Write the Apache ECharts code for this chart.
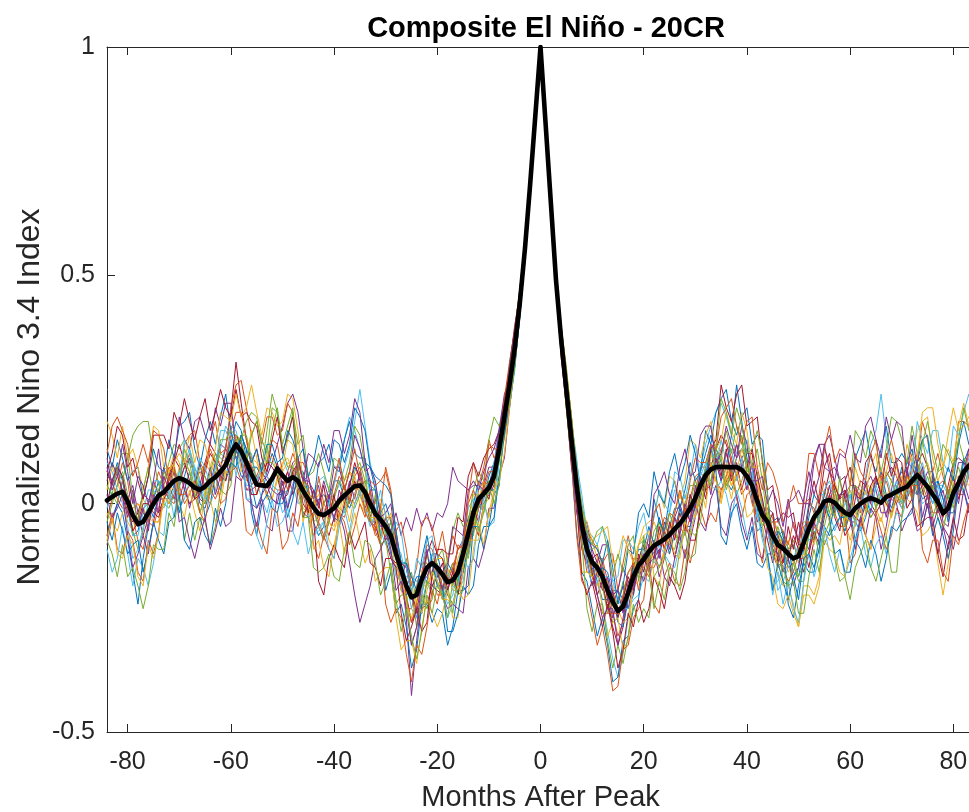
<!DOCTYPE html>
<html><head><meta charset="utf-8">
<script src="https://cdn.jsdelivr.net/npm/echarts@6/dist/echarts.min.js"></script>
<style>html,body{margin:0;padding:0;background:#fff}#chart{width:969px;height:812px}</style>
</head><body><div id="chart"></div>
<script>
// Months after peak: -84 .. 84 (169 monthly values per series)
const MONTH_START = -84;
const xTickValues = [-80, -60, -40, -20, 0, 20, 40, 60, 80];
const memberColors = ['#0072BD', '#D95319', '#EDB120', '#7E2F8E', '#77AC30', '#4DBEEE', '#A2142F'];

const compositeMean = [
  0.007, 0.015, 0.022, 0.026, 0.005, -0.025, -0.045, -0.04, -0.02, 0.0, 0.018, 0.025, 0.038,
  0.05, 0.056, 0.052, 0.045, 0.035, 0.03, 0.038, 0.05, 0.058, 0.07, 0.085, 0.11, 0.13,
  0.115, 0.09, 0.065, 0.042, 0.04, 0.039, 0.055, 0.077, 0.062, 0.05, 0.058, 0.05, 0.028,
  0.01, -0.008, -0.022, -0.025, -0.018, -0.01, 0.006, 0.018, 0.028, 0.038, 0.04, 0.025, 0.0,
  -0.022, -0.035, -0.05, -0.07, -0.11, -0.145, -0.18, -0.205, -0.2, -0.165, -0.14, -0.13, -0.14,
  -0.155, -0.172, -0.168, -0.15, -0.11, -0.065, -0.02, 0.01, 0.022, 0.035, 0.06, 0.12, 0.19,
  0.26, 0.34, 0.44, 0.56, 0.70, 0.85, 1.0, 0.83, 0.66, 0.49, 0.36, 0.25, 0.14,
  0.04, -0.045, -0.1, -0.128, -0.14, -0.16, -0.19, -0.215, -0.235, -0.225, -0.195, -0.16, -0.135,
  -0.122, -0.105, -0.092, -0.085, -0.078, -0.068, -0.055, -0.044, -0.028, -0.01, 0.012, 0.04, 0.062,
  0.075, 0.08, 0.081, 0.08, 0.08, 0.08, 0.074, 0.06, 0.04, 0.005, -0.025, -0.04, -0.07,
  -0.09, -0.098, -0.11, -0.12, -0.115, -0.085, -0.055, -0.03, -0.015, 0.005, 0.008, 0.002, -0.01,
  -0.02, -0.025, -0.01, 0.0, 0.008, 0.012, 0.008, 0.002, 0.015, 0.02, 0.026, 0.032, 0.037,
  0.05, 0.063, 0.05, 0.037, 0.02, 0.004, -0.021, -0.01, 0.023, 0.045, 0.07, 0.083, 0.088
];

const member01 = [
  .06,.05,.09,.05,-.01,-.07,-.06,-.01,.00,-.03,.02,.07,.06,
  .08,.04,.06,.10,.06,.00,-.01,.03,.09,.08,.05,.13,.18,
  .16,.10,.04,-.01,.02,.07,.11,.08,.02,-.01,.04,.08,.07,
  .02,-.04,-.07,-.05,.01,.05,.05,.01,-.01,.02,.07,.09,.08,
  .03,-.02,-.06,-.11,-.14,-.13,-.14,-.20,-.25,-.24,-.17,-.11,-.11,
  -.16,-.20,-.22,-.17,-.08,-.03,-.01,-.01,.01,.06,.09,.14,.22,
  .28,.35,.47,.57,.70,.86,1,.82,.67,.52,.38,.29,.17,
  .06,-.01,-.07,-.14,-.17,-.21,-.21,-.19,-.19,-.21,-.23,-.20,-.13,
  -.08,-.09,-.11,-.14,-.11,-.05,-.01,-.01,-.05,-.05,.00,.07,.11,
  .15,.12,.09,.05,.03,.06,.10,.12,.08,-.01,-.07,-.11,-.11,
  -.07,-.06,-.10,-.15,-.16,-.10,-.03,.02,.00,-.01,-.03,-.01,.02,
  .03,-.01,-.04,-.06,-.03,.02,.05,.03,.01,-.02,.01,.05,.09,
  .08,.05,.01,.02,.04,.05,.01,-.02,-.02,.03,.09,.12,.11
];
const member02 = [
  -.03,.01,.04,.09,.05,-.03,-.08,-.10,-.04,.03,.07,.04,.01,
  .00,.04,.08,.11,.06,.02,.08,.12,.09,.05,.09,.15,.14,
  .09,.03,.04,.06,.09,.06,.04,.03,.03,.07,.11,.08,.02,
  -.03,-.07,-.04,.00,.02,.00,-.02,-.03,.01,.06,.08,.03,-.03,
  -.07,-.06,-.03,-.03,-.10,-.18,-.23,-.23,-.18,-.13,-.13,-.16,-.20,
  -.20,-.16,-.13,-.13,-.13,-.11,-.04,.03,.05,.04,.04,.13,.21,
  .27,.36,.44,.55,.71,.85,1,.84,.66,.48,.37,.25,.16,
  .04,-.08,-.15,-.15,-.12,-.12,-.17,-.24,-.29,-.26,-.19,-.12,-.12,
  -.14,-.16,-.12,-.07,-.03,-.04,-.07,-.08,-.05,.01,.06,.07,.05,
  .05,.08,.12,.14,.10,.06,.02,.04,.06,.04,.00,-.06,-.11,
  -.14,-.13,-.10,-.09,-.12,-.12,-.11,-.05,.00,.05,.02,-.02,-.05,
  -.05,-.02,.03,.02,-.01,-.03,-.01,.02,.07,.05,.02,-.01,.02,
  .07,.11,.08,.03,-.02,-.02,.00,.03,.03,.02,.02,.06,.11
];
const member03 = [
  .03,.08,.05,.01,-.04,-.06,-.03,.01,-.01,-.04,-.04,.01,.07,
  .11,.09,.03,.00,.02,.06,.09,.07,.03,.02,.08,.14,.15,
  .10,.05,.07,.08,.06,.01,.01,.06,.09,.10,.07,.01,-.02,
  -.01,.02,.03,-.01,-.04,-.05,.00,.05,.07,.04,.00,-.02,-.01,
  .00,.01,-.02,-.08,-.15,-.17,-.16,-.16,-.17,-.18,-.18,-.15,-.12,
  -.12,-.15,-.19,-.19,-.12,-.05,.02,.02,.00,.01,.06,.15,.18,
  .25,.34,.42,.56,.71,.84,1,.83,.65,.49,.34,.24,.14,
  .02,-.04,-.06,-.08,-.12,-.18,-.23,-.23,-.21,-.18,-.18,-.18,-.17,
  -.11,-.07,-.04,-.07,-.10,-.11,-.07,-.01,.02,.01,-.01,.00,.04,
  .10,.13,.11,.07,.04,.06,.09,.10,.05,-.04,-.04,-.02,-.03,
  -.07,-.12,-.15,-.13,-.09,-.04,-.04,-.05,-.06,.00,.04,.05,.01,
  -.04,-.08,-.04,.01,.05,.03,-.01,-.04,.01,.05,.08,.05,.01,
  .00,-.02,-.07,-.06,-.04,-.13,-.20,-.13,-.03,.05,.10,.08,.07
];
const member04 = [
  .02,-.04,.00,.05,.01,.04,-.02,-.07,-.03,.05,.02,.08,.04,
  .01,.05,.08,.10,.06,.01,.00,.04,.09,.13,.12,.10,.10,
  .12,.10,.08,.06,.05,.06,.09,.13,.17,.22,.24,.20,.12,
  .03,-.01,-.05,-.08,-.04,.00,-.02,-.06,-.13,-.20,-.26,-.22,-.18,
  -.12,-.10,-.07,-.04,-.08,-.15,-.25,-.42,-.30,-.20,-.14,-.13,-.17,
  -.21,-.19,-.15,-.10,-.08,-.08,-.06,-.01,.04,.08,.08,.11,.20,
  .26,.33,.45,.58,.70,.86,1,.82,.66,.50,.35,.23,.13,
  .02,-.06,-.04,-.11,-.16,-.13,-.20,-.25,-.21,-.18,-.23,-.17,-.15,
  -.13,-.07,-.10,-.16,-.12,-.08,-.03,.00,-.04,-.08,-.03,.02,.05,
  .13,.11,.07,.04,.06,.10,.12,.09,.03,-.04,-.02,-.01,-.02,
  -.07,-.10,-.14,-.13,-.09,-.03,.04,.10,.13,.13,.15,.10,.05,
  .01,-.04,-.04,.00,.04,.06,.03,-.02,-.02,.01,.05,.07,.05,
  .03,.02,.04,.07,.07,.02,-.04,-.05,.03,.09,.09,.07,.06
];
const member05 = [
  .04,.02,.00,.05,.10,.15,.17,.18,.18,.10,.04,.05,.09,
  .13,.12,.14,.12,.07,.02,.00,.03,.08,.11,.10,.08,.12,
  .14,.07,.02,.02,.06,.09,.09,.07,.02,.03,.08,.10,.06,
  .01,-.04,-.03,.00,.03,.01,-.01,-.02,.02,.07,.09,.05,-.02,
  -.01,-.07,-.03,-.09,-.06,-.13,-.18,-.15,-.22,-.19,-.11,-.16,-.12,
  -.10,-.16,-.13,-.18,-.10,-.12,-.05,.02,-.01,.05,.02,.09,.17,
  .27,.33,.44,.57,.69,.85,1,.84,.67,.48,.36,.26,.13,
  .03,-.08,-.10,-.10,-.09,-.14,-.21,-.26,-.25,-.20,-.15,-.14,-.16,
  -.16,-.12,-.06,-.04,-.06,-.09,-.10,-.05,.00,.04,.04,.03,.03,
  .12,.07,.10,.04,.08,.02,.05,.09,.04,.07,-.01,-.03,-.10,
  -.12,-.06,-.10,-.08,-.13,-.09,-.04,-.08,-.02,.03,.00,.04,.01,
  -.05,.00,-.04,.03,-.02,.04,-.01,.05,.01,-.03,.04,.00,.06,
  .04,.09,.06,.02,-.03,.01,-.02,.03,-.01,.06,.03,.08,.11
];
const member06 = [
  -.01,.04,.07,.06,.00,-.07,-.07,-.02,.03,.03,.01,-.01,.02,
  .01,-.01,.01,.05,.08,.05,.02,.00,.03,.08,.13,.17,.16,
  .11,.11,.11,.05,.01,-.02,.03,.09,.10,.07,.04,.00,.01,
  .04,.02,.05,.06,.03,.02,.04,.08,.12,.18,.25,.17,.09,
  .04,-.01,-.05,-.10,-.16,-.17,-.16,-.16,-.17,-.17,-.17,-.19,-.18,
  -.18,-.22,-.20,-.14,-.07,-.01,.01,.00,-.01,.04,.09,.17,.23,
  .29,.36,.45,.56,.69,.85,1,.83,.67,.51,.39,.27,.18,
  .09,.02,-.06,-.13,-.17,-.22,-.28,-.34,-.38,-.33,-.25,-.18,-.14,
  -.10,-.12,-.13,-.11,-.06,-.02,.03,.02,-.01,-.03,.01,.08,.13,
  .17,.20,.22,.19,.15,.11,.12,.14,.08,.00,-.05,-.11,-.18,
  -.17,-.14,-.11,-.09,-.11,-.11,-.10,-.03,.02,.02,-.02,-.06,-.03,
  .00,.02,.02,-.01,.06,.13,.16,.24,.14,.07,.01,-.01,.03,
  .07,.04,.00,.01,.03,.04,.04,.02,.01,.01,.05,.10,.12
];
const member07 = [
  .05,.09,.06,.03,-.02,-.04,-.02,.02,.01,-.01,-.02,.01,.06,
  .10,.08,.03,.00,.01,.04,.09,.13,.11,.08,.12,.20,.31,
  .22,.14,.09,.12,.06,.02,.05,.09,.04,.07,.02,.05,.00,
  -.02,.03,.00,-.04,-.07,-.03,.01,.04,.00,.05,.02,-.01,.03,
  -.04,-.09,-.08,-.06,-.07,-.13,-.20,-.26,-.23,-.16,-.11,-.08,-.11,
  -.12,-.17,-.14,-.20,-.15,-.10,-.04,-.07,.00,.02,.04,.10,.15,
  .24,.33,.44,.55,.70,.84,1,.84,.65,.49,.37,.25,.12,
  .01,-.10,-.13,-.12,-.11,-.15,-.21,-.27,-.31,-.27,-.20,-.13,-.13,
  -.11,-.15,-.08,-.11,-.04,-.07,-.12,-.06,-.01,-.04,.02,.06,.01,
  .08,.12,.15,.13,.09,.06,.08,.11,.11,.03,-.03,-.08,-.13,
  -.08,-.13,-.05,-.10,-.04,-.09,-.14,-.08,-.03,.02,.07,.03,-.02,
  -.07,-.05,.01,.05,.04,.00,-.02,.00,.06,.08,.06,.02,.01,
  .04,.09,.11,.08,.03,-.02,-.01,.04,.09,.10,.09,.08,.12
];
const member08 = [
  -.07,-.03,.00,-.02,-.08,-.15,-.22,-.12,-.05,.01,.05,.03,.01,
  .04,-.02,.03,.07,.01,.05,-.03,.00,.06,.03,.09,.14,.10,
  .06,.06,.08,.08,.06,.02,.01,.00,.00,.03,.07,.03,-.02,
  -.03,-.02,.01,.02,.00,-.03,-.04,-.01,.04,.08,.06,.01,-.04,
  -.04,-.02,.00,-.04,-.12,-.19,-.20,-.19,-.16,-.16,-.17,-.18,-.16,
  -.15,-.13,-.15,-.17,-.15,-.09,.00,.05,.04,.03,.03,.10,.20,
  .28,.35,.43,.55,.71,.85,1,.82,.64,.48,.36,.24,.15,
  .07,-.05,-.13,-.18,-.16,-.14,-.15,-.20,-.26,-.27,-.21,-.14,-.10,
  -.10,-.05,-.09,-.03,-.07,-.11,-.06,-.01,-.04,.02,-.02,.03,.07,
  .12,.09,.05,.08,.15,.26,.18,.10,.01,-.06,-.05,-.03,-.04,
  -.03,-.07,-.12,-.16,-.14,-.07,.00,-.01,-.04,-.05,-.07,-.05,-.03,
  -.06,-.02,-.08,-.03,.01,-.02,.04,.07,.02,-.01,.03,.08,.04,
  .06,.02,.07,.03,.00,.05,.01,-.04,.02,.04,.10,.06,.09
];
const member09 = [
  .07,.05,.01,-.01,-.01,-.01,.00,-.02,-.04,-.05,-.01,.04,.08,
  .07,.04,.00,.02,.05,.07,.06,.03,.01,.04,.10,.16,.20,
  .20,.14,.08,.02,.05,.09,.14,.13,.07,.03,.06,.09,.09,
  .06,.01,-.04,-.07,-.03,.02,.06,.04,.01,.00,.03,.05,.05,
  .04,.05,.07,.02,-.06,-.14,-.21,-.26,-.22,-.15,-.09,-.10,-.14,
  -.18,-.17,-.14,-.10,-.09,-.09,-.06,-.01,.03,.07,.07,.11,.19,
  .25,.35,.46,.57,.71,.86,1,.83,.67,.50,.35,.26,.14,
  .04,-.03,-.10,-.16,-.20,-.24,-.24,-.24,-.24,-.20,-.15,-.13,-.14,
  -.11,-.14,-.14,-.11,-.06,-.02,-.03,-.05,-.07,-.03,.03,.08,.08,
  .08,.05,.03,.06,.10,.13,.10,.05,.00,-.03,-.01,-.01,-.06,
  -.10,-.14,-.17,-.15,-.11,-.05,-.04,-.05,-.07,-.02,.02,.04,.01,
  .02,.04,.04,.01,-.01,.01,.05,.06,.05,.01,.00,.03,.07,
  .11,.09,.04,.01,.02,.04,.05,.03,.02,.02,.06,.11,.14
];
const member10 = [
  -.02,-.04,-.06,-.02,.00,-.01,.00,-.01,-.03,-.04,-.04,.00,.04,
  .03,.08,.10,.07,.02,-.02,.01,.06,.10,.09,.07,.07,.12,
  .08,.08,.10,.09,.06,.02,.01,.05,.07,.09,.08,.03,-.01,
  -.02,.00,.02,-.01,-.04,-.06,-.02,.03,.07,.06,.02,-.02,-.03,
  -.06,.00,-.05,-.02,-.09,-.14,-.22,-.17,-.24,-.15,-.18,-.12,-.17,
  -.19,-.14,-.18,-.12,-.09,-.04,-.06,.01,.05,.02,.07,.14,.21,
  .26,.36,.45,.55,.69,.85,1,.84,.68,.49,.38,.28,.16,
  .06,-.01,-.08,-.15,-.18,-.17,-.17,-.18,-.23,-.26,-.25,-.18,-.13,
  -.09,-.11,-.12,-.14,-.10,-.06,-.02,.02,.00,-.02,-.03,.02,.08,
  .03,.06,.01,.09,.04,.07,.12,.08,.03,.05,-.02,-.06,-.03,
  -.06,-.10,-.08,-.13,-.09,-.12,-.06,-.09,-.03,.00,-.04,.02,-.03,
  .01,.03,-.02,-.05,-.02,.03,.06,.04,.00,-.03,.01,.06,.07,
  .01,.04,.07,.09,.05,-.01,-.05,-.01,.05,.06,.05,.04,.08
];
const member11 = [
  .10,.04,.08,.02,-.03,.03,-.05,-.01,-.06,.02,-.02,.06,.03,
  .07,.01,.05,-.01,.04,.09,.03,.08,.02,.06,.10,.05,.12,
  .09,.03,.03,.04,.07,.05,.03,.02,.02,.05,.09,.10,.05,
  .06,.01,.04,-.03,.02,-.04,.03,.00,.05,.01,.07,.02,-.04,
  -.05,-.08,-.03,-.06,-.02,-.07,-.03,-.06,-.01,-.05,-.02,-.06,-.02,
  -.03,.00,.08,.05,.04,.03,.04,.04,.03,.04,.08,.16,.24,
  .27,.34,.45,.56,.71,.85,1,.83,.66,.50,.36,.25,.15,
  .00,-.06,-.12,-.18,-.15,-.19,-.16,-.22,-.19,-.24,-.17,-.20,-.12,
  -.09,-.14,-.08,-.12,-.06,-.10,-.03,-.07,.00,-.04,.04,.01,.08,
  .02,.09,.05,.11,.07,.13,.08,.03,.09,.02,-.04,.01,-.09,
  -.11,-.15,-.12,-.18,-.14,-.08,-.10,-.04,-.07,-.01,.04,-.02,.02,
  .02,-.03,.04,-.02,.05,.00,.06,.02,-.03,.03,.09,.04,.01,
  .09,.04,.08,.02,.05,.00,.03,-.03,.04,.00,.07,.12,.07
];
const member12 = [
  -.04,.00,.04,.07,.02,-.06,-.10,-.06,.00,.04,.03,.00,-.01,
  .02,.07,.09,.07,.02,-.02,.02,.07,.11,.10,.09,.08,.12,
  .15,.15,.10,.05,.08,.16,.24,.20,.12,.08,.08,.06,.04,
  .03,-.01,-.05,-.08,-.04,.01,.05,.03,.00,-.01,.02,.05,.04,
  .03,-.02,-.07,-.04,-.10,-.15,-.12,-.19,-.27,-.22,-.17,-.20,-.14,
  -.21,-.18,-.24,-.16,-.14,-.05,-.07,.00,-.02,.03,.08,.10,.16,
  .24,.33,.42,.55,.70,.85,1,.82,.65,.47,.35,.23,.12,
  .05,-.04,-.11,-.16,-.13,-.18,-.24,-.20,-.22,-.17,-.21,-.15,-.09,
  -.08,-.13,-.09,-.04,-.08,-.02,-.06,-.09,-.04,.00,.05,.02,.06,
  .05,.11,.08,.03,.07,.10,.15,.09,.05,.00,-.05,-.02,-.08,
  -.05,-.09,-.14,-.12,-.16,-.13,-.07,-.02,-.04,.01,-.02,.03,-.01,
  -.04,-.01,.04,.03,.00,-.03,-.01,.02,.07,.05,.02,.00,.04,
  .01,.05,.02,.06,.02,-.03,-.06,.00,.04,.08,.04,.07,.04
];
const member13 = [
  .09,.07,.03,.00,-.05,-.12,-.10,-.05,.00,.05,.05,.02,.00,
  .03,.07,.09,.12,.08,.04,.01,.04,.08,.12,.17,.15,.13,
  .10,.04,.04,.05,.08,.06,.04,.03,-.02,.00,.04,.06,.03,
  -.02,-.07,-.06,-.04,.00,.04,.09,.14,.19,.16,.12,.08,.02,
  -.01,-.06,-.09,-.08,-.09,-.11,-.17,-.23,-.25,-.20,-.14,-.11,-.15,
  -.16,-.15,-.18,-.19,-.17,-.10,-.01,.04,.02,.02,.05,.13,.19,
  .26,.33,.43,.57,.70,.85,1,.83,.65,.49,.35,.24,.14,
  .05,-.06,-.13,-.18,-.17,-.16,-.16,-.17,-.21,-.23,-.23,-.21,-.20,
  -.16,-.17,-.12,-.09,-.11,-.13,-.14,-.09,-.05,-.06,-.02,.04,.08,
  .13,.08,.14,.09,.12,.05,.10,.04,.07,-.03,.01,-.06,-.12,
  -.19,-.17,-.14,-.12,-.09,-.07,-.08,-.07,-.03,.03,.05,.01,-.03,
  -.03,.02,-.05,-.01,.03,-.02,.04,.01,.06,.02,.05,.00,.03,
  .10,.06,.09,.04,.00,.04,-.01,.03,.00,.05,.02,.07,.04
];
const member14 = [
  .00,.05,.08,.06,.00,-.06,-.04,.00,.00,-.02,-.03,.01,.05,
  .09,.13,.09,.05,.01,.02,.07,.11,.09,.06,.05,.09,.15,
  .13,.06,.02,.02,.06,.09,.08,.06,.01,.02,.07,.09,.05,
  -.02,.03,-.01,.04,-.03,.02,-.05,.00,.04,.09,.05,.02,-.03,
  .01,-.04,-.08,-.12,-.13,-.13,-.14,-.20,-.23,-.23,-.22,-.18,-.16,
  -.13,-.19,-.15,-.20,-.12,-.09,-.01,-.04,.03,.01,.07,.10,.18,
  .27,.36,.46,.57,.69,.85,1,.84,.68,.51,.38,.26,.17,
  .03,-.07,-.09,-.15,-.20,-.17,-.23,-.19,-.25,-.21,-.16,-.19,-.11,
  -.15,-.09,-.12,-.05,-.10,-.04,-.08,-.02,-.06,.02,-.01,.05,.03,
  .04,.10,.06,.12,.05,.09,.03,.08,.12,.06,.01,-.05,-.02,
  -.13,-.08,-.12,-.07,-.10,-.15,-.11,-.06,-.09,-.03,.02,-.03,-.06,
  .03,-.01,-.03,-.04,.00,.04,.06,.02,.00,-.02,.02,.05,.08,
  .02,.07,.03,-.01,.06,.01,-.03,.02,.06,.01,.05,.09,.05
];
const member15 = [
  .12,.08,.14,.10,.05,.07,.08,.01,.06,.12,.08,.07,.14,
  .10,.17,.18,.20,.12,.08,.14,.18,.13,.19,.24,.16,.11,
  .15,.12,-.02,-.07,.00,.02,-.01,-.02,.03,-.03,.01,.07,.02,
  .01,.00,.09,.10,.13,.08,.07,.14,.18,.11,.10,.10,.03,
  .03,-.08,-.19,-.15,-.24,-.22,-.27,-.36,-.32,-.22,-.22,-.26,-.23,
  -.24,-.31,-.27,-.19,-.19,-.18,-.05,-.05,-.10,-.05,.02,.04,.18,
  .21,.30,.41,.54,.69,.84,1,.82,.65,.47,.33,.21,.09,
  -.06,-.15,-.17,-.23,-.29,-.25,-.31,-.39,-.38,-.30,-.29,-.23,-.21,
  -.12,-.12,.01,-.04,-.06,.01,.05,-.01,.03,.09,.05,.07,.16,
  .13,.20,.23,.25,.18,.15,.19,.21,.13,.15,.14,.02,-.09,
  -.06,-.08,-.22,-.25,-.18,-.13,-.15,-.15,-.07,-.09,-.06,.00,-.03,
  -.03,-.02,.10,.13,.16,.10,.07,.12,.17,.09,.09,.11,.09,
  .12,.05,-.05,.00,-.07,-.03,-.07,-.12,-.06,.04,.03,-.01,.03
];
const member16 = [
  -.07,-.02,-.10,-.11,-.06,-.08,-.15,-.17,-.08,-.11,-.06,.02,.00,
  .02,.04,.13,.15,.16,.09,.07,.14,.18,.11,.12,.21,.26,
  .27,.21,.15,.18,.13,.19,.19,.15,.16,.22,.20,.09,.05,
  .04,-.09,-.12,-.07,-.10,-.12,-.02,-.04,-.09,-.05,.00,-.03,.03,
  -.06,-.01,.08,.03,-.06,-.04,-.10,-.18,-.14,-.04,-.03,-.05,-.11,
  -.06,-.13,-.07,-.10,-.09,.01,.09,.04,.08,.14,.10,.12,.23,
  .31,.38,.47,.58,.72,.86,1,.84,.68,.51,.39,.29,.19,
  .04,-.03,-.06,-.08,-.10,-.13,-.11,-.11,-.19,-.13,-.07,-.13,-.19,
  -.12,-.12,-.22,-.24,-.16,-.13,-.17,-.18,-.10,-.13,-.08,-.01,-.05,
  -.02,-.04,.03,.05,.07,.01,-.03,.02,.03,-.08,-.13,-.05,-.04,
  -.04,-.06,-.09,-.04,-.09,.00,.01,-.02,.02,.12,.09,.00,-.02,
  -.02,-.13,-.11,-.04,-.07,-.10,-.02,-.06,-.10,-.07,-.01,-.03,.07,
  .01,.09,.18,.14,.07,.11,.06,.02,.08,.18,.18,.17,.13
];
const member17 = [
  .18,.15,.10,.17,.10,.12,.08,.03,.08,.17,.16,.08,.07,
  .09,.00,-.03,.03,-.02,-.06,.03,.01,-.04,.00,.07,.06,.15,
  .07,.10,.16,.10,.05,.11,.10,.07,.08,.14,.13,.06,-.04,
  .01,-.10,-.08,-.14,-.16,-.09,-.04,-.11,-.07,-.02,-.08,-.13,-.10,
  -.17,-.15,-.14,-.14,-.25,-.32,-.30,-.30,-.35,-.27,-.21,-.24,-.27,
  -.24,-.19,-.25,-.25,-.14,-.08,-.08,-.08,.00,-.03,.02,.12,.14,
  .22,.31,.41,.55,.69,.84,1,.82,.64,.48,.33,.22,.10,
  -.01,-.15,-.15,-.16,-.15,-.23,-.29,-.26,-.25,-.32,-.30,-.16,-.09,
  -.05,-.04,-.03,.03,-.01,.06,.05,.01,.05,.14,.13,.10,.15,
  .18,.12,.14,.20,.16,.13,.20,.16,.08,.08,.09,-.03,-.06,
  -.15,-.18,-.18,-.22,-.27,-.18,-.18,-.20,-.16,-.06,-.08,-.07,-.09,
  -.03,-.04,.08,.04,.02,.08,.11,.02,.07,.11,.06,.04,.13,
  .09,.16,.18,.19,.10,.05,.08,.12,.09,.17,.22,.17,.15
];
const member18 = [
  -.09,-.03,-.01,.02,-.07,-.14,-.11,-.07,-.11,-.04,.01,.01,.03,
  .09,.19,.14,.12,.18,.19,.15,.13,.21,.17,.22,.22,.12,
  .12,.01,.00,-.01,.01,-.05,-.06,.02,.03,-.06,-.06,.03,.05,
  .05,.03,.00,.05,.01,.08,.08,.03,.07,.15,.12,.07,.08,
  .05,-.03,-.02,.00,-.08,-.16,-.13,-.20,-.24,-.17,-.10,-.18,-.19,
  -.20,-.23,-.22,-.23,-.24,-.14,-.12,-.14,-.10,-.01,-.01,.06,.10,
  .21,.30,.41,.54,.69,.84,1,.84,.68,.51,.39,.29,.19,
  .08,-.04,-.07,-.10,-.13,-.09,-.09,-.20,-.19,-.14,-.17,-.19,-.14,
  -.17,-.13,-.12,-.10,-.16,-.18,-.12,-.07,-.12,-.05,.00,-.04,-.06,
  .01,.04,-.05,-.07,.00,.02,-.04,-.08,-.03,-.11,-.12,-.05,-.10,
  -.11,-.10,.00,.01,.03,.00,.00,.09,.13,.08,.07,.08,.05,
  .06,-.03,-.10,-.03,-.07,-.01,-.03,-.10,-.05,.02,.00,-.06,-.03,
  -.01,-.06,-.05,.00,-.06,-.11,-.05,-.07,-.10,-.04,.03,-.02,.04
];
const member19 = [
  .04,.02,.08,.11,.11,.01,-.04,.03,.08,.02,.03,.07,.05,
  .08,.02,-.08,-.02,-.08,-.03,-.04,-.09,-.05,.03,.02,.04,.14,
  .14,.09,.15,.18,.14,.11,.21,.20,.12,.14,.20,.13,.15,
  .06,.07,.11,.07,.03,.10,.09,.05,.09,.17,.15,.08,-.04,
  .02,-.09,-.08,-.15,-.22,-.20,-.20,-.31,-.27,-.20,-.23,-.21,-.13,
  -.20,-.12,-.06,-.02,-.05,-.04,.03,.07,.05,.14,.19,.17,.19,
  .31,.38,.47,.58,.72,.86,1,.82,.65,.47,.33,.21,.09,
  .00,-.08,-.23,-.28,-.22,-.22,-.30,-.36,-.31,-.35,-.29,-.22,-.26,
  -.23,-.25,-.16,-.14,-.11,-.16,-.18,-.10,-.06,-.12,-.11,.02,.08,
  .12,.12,.10,.16,.11,.17,.14,.07,.08,.12,.05,-.04,-.07,
  -.08,-.17,-.18,-.13,-.17,-.17,-.06,-.06,-.11,-.05,.00,-.03,.06,
  -.03,.04,.16,.14,.10,.16,.13,.07,.12,.19,.18,.14,.09,
  .17,.11,.14,.08,.03,.07,.08,.01,.07,.14,.10,.08,.15
];
const member20 = [
  -.10,-.15,-.12,-.05,-.11,-.18,-.12,-.14,-.18,-.13,-.06,-.07,.03,
  -.03,.05,.14,.11,.05,.10,.08,.04,.08,.16,.16,.13,.06,
  .12,.01,.01,-.07,-.10,-.04,.01,-.05,-.04,-.01,-.06,-.09,-.04,
  -.11,-.07,-.05,-.04,-.10,-.12,-.05,-.01,-.06,.00,.03,-.01,-.05,
  -.02,.03,-.03,-.07,-.04,-.06,-.14,-.20,-.12,-.14,-.08,-.07,-.18,
  -.19,-.25,-.22,-.18,-.12,-.14,-.12,-.03,.01,-.05,-.04,.10,.19,
  .22,.29,.42,.54,.68,.84,1,.84,.67,.52,.38,.30,.18,
  .10,-.01,-.06,-.07,-.09,-.05,-.08,-.17,-.16,-.08,-.08,-.10,-.05,
  -.02,-.08,-.03,.03,.00,-.02,.07,.06,.01,.06,.13,.06,.09,
  .04,.03,.05,.02,-.03,.03,-.01,-.07,-.06,-.02,-.08,-.12,-.20,
  -.15,-.22,-.17,-.23,-.26,-.17,-.11,-.16,-.12,-.05,-.11,-.15,-.10,
  -.16,-.12,-.08,-.05,-.11,-.14,-.09,-.07,-.11,-.06,-.02,-.03,.01,
  .07,.18,.14,.11,.16,.16,.09,.07,.17,.15,.20,.24,.18
];
const member21 = [
  .07,.11,.17,.15,.08,.10,.05,.01,.06,.15,.15,.15,.12,
  .20,.17,.23,.18,.14,.19,.23,.16,.20,.25,.21,.19,.25,
  .19,.20,.18,.17,.10,.07,.14,.19,.11,.15,.19,.07,-.03,
  .00,-.03,-.17,-.20,-.12,-.09,-.12,-.14,-.06,-.10,-.07,-.04,-.13,
  -.14,-.18,-.12,-.12,-.14,-.24,-.30,-.27,-.23,-.28,-.26,-.15,-.10,
  -.10,-.11,-.11,-.03,-.04,.06,.09,.06,.10,.12,.13,.16,.22,
  .30,.39,.46,.58,.71,.86,1,.82,.64,.48,.32,.22,.08,
  .01,-.16,-.20,-.17,-.22,-.27,-.22,-.28,-.36,-.32,-.24,-.27,-.21,
  -.26,-.23,-.16,-.19,-.23,-.16,-.18,-.21,-.17,-.08,-.08,-.01,.03,
  .12,.14,.26,.21,.18,.24,.26,.17,.18,.19,.09,.03,.04,
  -.04,-.02,-.03,-.02,-.09,-.09,-.01,.05,.00,.08,.11,.04,.01,
  .05,.08,.02,.01,.09,.11,.06,.02,.11,.06,.10,.09,-.01,
  .01,-.05,-.04,-.03,-.03,-.11,-.16,-.09,-.03,-.08,-.07,.00,.02
];
const member22 = [
  -.04,-.08,-.02,-.06,-.11,-.09,-.08,-.15,-.10,-.04,-.08,-.11,-.04,
  -.03,.02,-.08,-.10,-.04,-.03,-.07,-.09,-.01,-.05,.00,.09,.08,
  .15,.12,.09,.12,.07,.13,.13,.09,.10,.16,.14,.10,.12,
  .06,.09,.15,.11,.07,.14,.13,.09,.13,.21,.19,.16,.08,
  .06,.05,.04,.02,-.06,-.13,-.13,-.16,-.19,-.12,-.07,-.13,-.18,
  -.18,-.28,-.28,-.24,-.18,-.20,-.18,-.09,-.05,-.05,-.03,.06,.15,
  .22,.30,.41,.54,.69,.84,1,.84,.67,.51,.38,.29,.18,
  .08,-.06,-.08,-.09,-.10,-.13,-.08,-.14,-.22,-.18,-.10,-.11,-.02,
  .00,-.03,.07,.02,.00,.07,.11,.05,.09,.15,.11,.05,.07,
  .09,.07,-.07,-.09,-.02,.00,-.06,-.10,-.05,-.13,-.14,-.11,-.19,
  -.13,-.17,-.21,-.16,-.21,-.12,-.11,-.14,-.10,.00,-.03,-.11,-.10,
  -.15,-.15,-.08,-.10,-.14,-.08,-.11,-.17,-.12,-.05,-.06,-.04,-.03,
  -.02,.09,.14,.15,.06,.01,.04,.08,.05,.13,.18,.13,.11
];
const member23 = [
  .11,.17,.19,.16,.13,.06,.09,.13,.09,.16,.15,.12,.05,
  .08,.02,.02,.04,.05,-.02,-.04,.03,.07,.00,.01,.07,.08,
  .05,-.06,-.07,-.04,-.08,-.11,-.01,-.02,-.10,-.08,-.02,-.05,.02,
  .00,-.03,.06,.00,-.02,.05,.10,.03,.07,.12,.06,-.02,-.04,
  -.06,-.09,-.22,-.26,-.23,-.25,-.33,-.39,-.31,-.33,-.27,-.19,-.22,
  -.16,-.17,-.17,-.09,-.10,.00,.03,.00,.04,.13,.12,.12,.21,
  .30,.38,.47,.58,.71,.86,1,.82,.65,.47,.33,.21,.10,
  -.07,-.17,-.19,-.25,-.31,-.27,-.33,-.41,-.40,-.32,-.31,-.25,-.23,
  -.21,-.11,-.02,.00,-.06,-.08,-.02,.03,-.02,.05,.10,.09,.09,
  .13,.12,.19,.21,.23,.17,.13,.18,.19,.08,.03,.09,.07,
  .03,-.04,-.01,.04,.00,.00,.11,.11,.06,.12,.17,.09,.12,
  .11,.04,.11,.07,.05,.11,.14,.05,.10,.14,.09,.01,.03,
  .04,.04,-.10,-.13,-.08,-.08,-.15,-.17,-.07,-.09,-.04,.00,-.06
];
const member24 = [
  -.08,-.03,-.11,-.12,-.07,-.09,-.16,-.18,-.09,-.12,-.07,.02,.00,
  .09,.11,.09,.15,.09,.14,.13,.08,.12,.20,.19,.18,.24,
  .19,.21,.26,.20,.15,.21,.20,.17,.18,.24,.23,.16,.04,
  .02,.01,-.03,-.02,-.08,-.10,-.03,.01,-.04,.02,.05,.00,-.03,
  -.03,-.08,-.04,-.07,-.12,-.19,-.22,-.25,-.21,-.24,-.19,-.15,-.17,
  -.21,-.21,-.22,-.18,-.21,-.20,-.10,-.04,-.09,-.02,.03,.05,.11,
  .21,.31,.42,.54,.69,.84,1,.84,.68,.52,.39,.30,.19,
  .08,-.02,-.04,-.08,-.07,-.06,-.05,-.13,-.12,-.07,-.10,-.13,-.09,
  -.07,-.06,-.16,-.18,-.10,-.07,-.11,-.12,-.04,-.07,-.02,.04,-.01,
  .09,.05,.00,.06,.01,.07,.04,-.03,-.02,.02,-.05,-.14,-.16,
  -.22,-.23,-.20,-.24,-.27,-.20,-.20,-.22,-.18,-.08,-.10,-.11,-.15,
  -.16,-.10,-.04,-.01,-.07,-.10,-.05,-.03,-.07,-.02,.02,.01,.04,
  .07,.10,.20,.21,.21,.13,.08,.15,.21,.16,.17,.19,.21
];
const member25 = [
  .08,.03,.06,.13,.07,.00,.06,.04,.00,.05,.12,.03,.04,
  .05,-.04,-.03,-.08,-.12,-.07,-.03,-.10,-.06,-.01,-.05,-.04,.06,
  .05,.08,.00,-.05,.02,.04,.01,.00,.05,-.01,.03,.10,.05,
  .11,.10,.08,.13,.09,.16,.16,.11,.15,.23,.20,.09,.05,
  -.02,-.05,-.05,-.10,-.19,-.17,-.23,-.31,-.27,-.17,-.16,-.13,-.15,
  -.19,-.14,-.05,-.06,-.07,.03,.05,.03,.07,.10,.12,.16,.19,
  .30,.38,.46,.58,.71,.86,1,.82,.65,.47,.33,.22,.10,
  -.02,-.07,-.11,-.12,-.20,-.25,-.23,-.23,-.31,-.25,-.19,-.18,-.15,
  -.11,-.10,.02,.04,.07,.02,.00,.08,.12,.06,.07,.15,.17,
  .17,.09,.11,.17,.13,.10,.17,.13,.05,.05,.06,.00,.03,
  .00,-.05,.01,-.05,-.08,.01,.07,.02,.06,.13,.07,.05,.11,
  .10,.15,.10,.09,.17,.19,.14,.10,.19,.14,.18,.17,.06,
  .15,.08,-.03,.02,-.05,-.01,-.05,-.10,-.04,.06,.05,.01,.05
];
const member26 = [
  -.08,-.11,-.16,-.09,-.16,-.14,-.18,-.23,-.18,-.09,-.10,-.10,-.02,
  -.05,.03,.12,.09,.03,.08,.06,.02,.06,.14,.14,.16,.15,
  .14,.18,.20,.19,.12,.09,.16,.21,.13,.17,.21,.08,-.03,
  -.03,-.14,-.15,-.14,-.11,-.16,-.17,-.10,-.06,-.13,-.14,-.08,-.09,
  -.13,-.20,-.17,-.13,-.21,-.28,-.23,-.29,-.34,-.28,-.20,-.24,-.18,
  -.20,-.25,-.17,-.20,-.19,-.09,-.01,-.06,-.02,.04,.00,.04,.18,
  .22,.30,.42,.55,.69,.84,1,.84,.67,.51,.39,.29,.19,
  .07,.00,-.06,-.09,-.06,-.05,-.10,-.16,-.11,-.15,-.09,-.07,-.17,
  -.07,-.15,-.23,-.17,-.21,-.14,-.15,-.19,-.15,-.06,-.07,-.04,.06,
  .04,.12,.23,.20,.15,.21,.17,.11,.12,.16,.10,.02,-.11,
  -.13,-.14,-.18,-.17,-.24,-.24,-.16,-.10,-.15,-.07,-.04,-.12,-.17,
  -.16,-.21,-.14,-.11,-.08,-.14,-.17,-.12,-.07,-.15,-.15,-.03,.05,
  .04,.05,.13,.18,.12,.07,.13,.11,.08,.14,.21,.16,.22
];

const members = [member01, member02, member03, member04, member05, member06, member07,
                 member08, member09, member10, member11, member12, member13, member14,
                 member15, member16, member17, member18, member19, member20, member21,
                 member22, member23, member24, member25, member26];

[compositeMean].concat(members).forEach(function (arr, i) {
  if (arr.length !== 169) throw new Error('series ' + i + ' has ' + arr.length + ' values');
});

function toPoints(values) {
  return values.map(function (v, i) { return [MONTH_START + i, v]; });
}

const FONT = "'Liberation Sans', Arial, Helvetica, sans-serif";
const INK = '#262626';

const series = members.map(function (vals, i) {
  return {
    type: 'line', xAxisIndex: 0, yAxisIndex: 0,
    data: toPoints(vals), showSymbol: false, symbol: 'none', silent: true,
    lineStyle: { width: 1, color: memberColors[i % memberColors.length] },
    z: 2
  };
});
series.push({
  type: 'line', xAxisIndex: 0, yAxisIndex: 0,
  data: toPoints(compositeMean), showSymbol: false, symbol: 'none', silent: true,
  lineStyle: { width: 4.6, color: '#000000', join: 'round', cap: 'round' },
  z: 5
});

const chart = echarts.init(document.getElementById('chart'), null, { renderer: 'canvas' });
chart.setOption({
  animation: false,
  backgroundColor: '#ffffff',
  title: {
    text: 'Composite El Niño - 20CR',
    left: 541, top: 9, textAlign: 'center',
    textStyle: { fontFamily: FONT, fontSize: 29, fontWeight: 'bold', color: '#000' }
  },
  graphic: [{
    type: 'text', x: 30, y: 397, rotation: Math.PI / 2, silent: true,
    style: {
      text: 'Normalized Nino 3.4 Index', fill: INK,
      font: "32px 'Liberation Sans', Arial, Helvetica, sans-serif",
      textAlign: 'center', textVerticalAlign: 'middle'
    }
  }],
  grid: { left: 107, top: 47, width: 867, height: 685, containLabel: false, outerBoundsMode: 'none' },
  xAxis: [{
    type: 'value', min: -84, max: 84, position: 'bottom',
    name: 'Months After Peak', nameLocation: 'middle', nameGap: 51,
    nameTextStyle: { fontFamily: FONT, fontSize: 29, color: INK },
    axisLine: { show: true, onZero: false, lineStyle: { color: INK, width: 1 } },
    axisTick: { show: true, inside: true, length: 8, customValues: xTickValues, lineStyle: { color: INK } },
    axisLabel: { show: true, customValues: xTickValues, margin: 18, fontFamily: FONT, fontSize: 25, color: INK },
    splitLine: { show: false }
  }, {
    type: 'value', min: -84, max: 84, position: 'top',
    axisLine: { show: true, onZero: false, lineStyle: { color: INK, width: 1 } },
    axisTick: { show: true, inside: true, length: 8, customValues: xTickValues, lineStyle: { color: INK } },
    axisLabel: { show: false },
    splitLine: { show: false }
  }],
  yAxis: [{
    type: 'value', min: -0.5, max: 1, interval: 0.5, position: 'left',
    axisLine: { show: true, onZero: false, lineStyle: { color: INK, width: 1 } },
    axisTick: { show: true, inside: true, length: 8, lineStyle: { color: INK } },
    axisLabel: { show: true, margin: 12, fontFamily: FONT, fontSize: 25, color: INK },
    splitLine: { show: false }
  }],
  series: series
});
</script>
</body></html>
